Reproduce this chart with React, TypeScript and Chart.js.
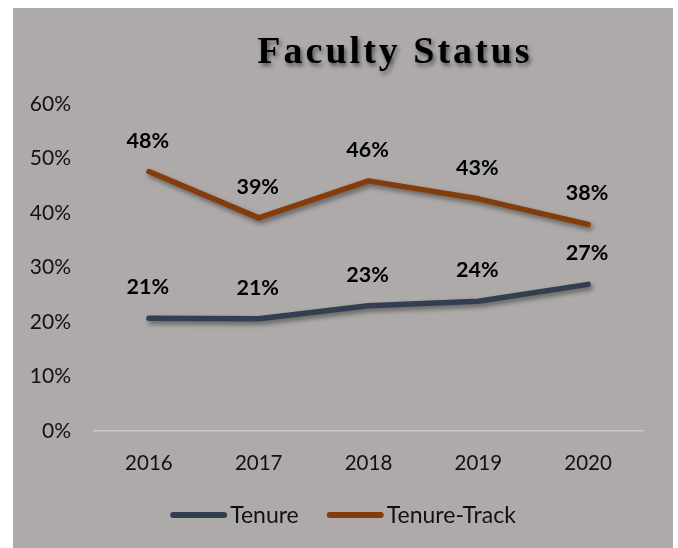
import React, { useEffect, useRef } from "react";
import { Chart, registerables } from "chart.js";

Chart.register(...registerables);

const years = ["2016", "2017", "2018", "2019", "2020"];
const tenure = [0.207, 0.206, 0.23, 0.238, 0.269];
const tenureTrack = [0.476, 0.391, 0.459, 0.426, 0.379];
const yTicks = [0, 0.1, 0.2, 0.3, 0.4, 0.5, 0.6];
const titleText = "Faculty Status";
const seriesNames = ["Tenure", "Tenure-Track"];

const TENURE_COLOR = "#333f50";
const TRACK_COLOR = "#843c0c";
const BG = "#aeaaaa";

const pct = (v: number) => Math.round(v * 100) + "%";

const shadowPlugin = {
  id: "lineShadow",
  beforeDatasetDraw(chart: any) {
    const ctx = chart.ctx;
    ctx.save();
    ctx.shadowColor = "rgba(0,0,0,0.45)";
    ctx.shadowBlur = 5;
    ctx.shadowOffsetX = 2;
    ctx.shadowOffsetY = 3;
  },
  afterDatasetDraw(chart: any) {
    chart.ctx.restore();
  },
};

const labelPlugin = {
  id: "pointLabels",
  afterDatasetsDraw(chart: any) {
    const ctx = chart.ctx;
    ctx.save();
    ctx.font = "bold 21.5px Lato";
    ctx.fillStyle = "#000";
    ctx.textAlign = "center";
    ctx.textBaseline = "middle";
    chart.data.datasets.forEach((ds: any, i: number) => {
      const meta = chart.getDatasetMeta(i);
      meta.data.forEach((pt: any, j: number) => {
        ctx.fillText(pct(ds.data[j]), pt.x - 1, pt.y - 31);
      });
    });
    ctx.restore();
  },
};

const titlePlugin = {
  id: "customTitle",
  afterDraw(chart: any) {
    const ctx = chart.ctx;
    ctx.save();
    ctx.font = "bold 38px 'Liberation Serif'";
    try {
      (ctx as any).letterSpacing = "3px";
    } catch (e) {}
    ctx.fillStyle = "#000";
    ctx.textAlign = "center";
    ctx.textBaseline = "alphabetic";
    ctx.shadowColor = "rgba(0,0,0,0.5)";
    ctx.shadowBlur = 4;
    ctx.shadowOffsetX = 2;
    ctx.shadowOffsetY = 3;
    ctx.fillText(titleText, 382, 55);
    ctx.restore();
  },
};

const legendPlugin = {
  id: "customLegend",
  afterDraw(chart: any) {
    const ctx = chart.ctx;
    ctx.save();
    ctx.font = "23px Lato";
    ctx.textBaseline = "middle";
    ctx.textAlign = "left";
    const sw = 57;
    const gap = 3;
    const itemGap = 28;
    const items = chart.data.datasets.map((ds: any) => ({
      label: ds.label,
      color: ds.borderColor,
      w: sw + gap + ctx.measureText(ds.label).width,
    }));
    const total = items.reduce((a: number, it: any) => a + it.w, 0) + itemGap * (items.length - 1);
    let x = chart.width / 2 - total / 2;
    const y = 507;
    items.forEach((it: any) => {
      ctx.strokeStyle = it.color;
      ctx.lineWidth = 6;
      ctx.lineCap = "round";
      ctx.beginPath();
      ctx.moveTo(x + 3, y);
      ctx.lineTo(x + sw - 3, y);
      ctx.stroke();
      ctx.fillStyle = "#111";
      ctx.fillText(it.label, x + sw + gap, y + 1);
      x += it.w + itemGap;
    });
    ctx.restore();
  },
};

export default function App() {
  const ref = useRef<HTMLCanvasElement>(null);
  useEffect(() => {
    if (!ref.current) return;
    const chart = new Chart(ref.current, {
      type: "line",
      data: {
        labels: years,
        datasets: [
          {
            label: seriesNames[0],
            data: tenure,
            borderColor: TENURE_COLOR,
            backgroundColor: TENURE_COLOR,
            borderWidth: 5.5,
            borderCapStyle: "round",
            borderJoinStyle: "round",
            pointRadius: 0,
            tension: 0,
          },
          {
            label: seriesNames[1],
            data: tenureTrack,
            borderColor: TRACK_COLOR,
            backgroundColor: TRACK_COLOR,
            borderWidth: 5.5,
            borderCapStyle: "round",
            borderJoinStyle: "round",
            pointRadius: 0,
            tension: 0,
          },
        ],
      },
      options: {
        responsive: false,
        animation: false,
        layout: { padding: { top: 96, right: 30, left: 0, bottom: 57 } },
        plugins: {
          title: { display: false },
          tooltip: { enabled: false },
          legend: { display: false },
        },
        scales: {
          x: {
            offset: true,
            grid: { display: false, drawTicks: false, offset: true },
            border: { display: true, color: "#cbc7c7", width: 1.5 },
            ticks: {
              font: { family: "Lato", size: 20.5 },
              color: "#111",
              padding: 20,
            },
            afterFit: (scale: any) => {
              scale.height = 60;
            },
          },
          y: {
            min: 0,
            max: 0.6,
            afterBuildTicks: (scale: any) => {
              scale.ticks = yTicks.map((v) => ({ value: v }));
            },
            grid: { display: false, drawTicks: false },
            border: { display: false },
            ticks: {
              font: { family: "Lato", size: 21 },
              color: "#111",
              padding: 23,
              callback: (v: any) => pct(Number(v)),
            },
            afterFit: (scale: any) => {
              scale.width = 81;
            },
          },
        },
      },
      plugins: [shadowPlugin, labelPlugin, titlePlugin, legendPlugin],
    });
    return () => chart.destroy();
  }, []);

  return (
    <div
      style={{
        position: "fixed",
        left: 13,
        top: 8,
        width: 660,
        height: 540,
        background: BG,
      }}
    >
      <canvas ref={ref} width={660} height={540} style={{ width: 660, height: 540, display: "block" }} />
    </div>
  );
}
